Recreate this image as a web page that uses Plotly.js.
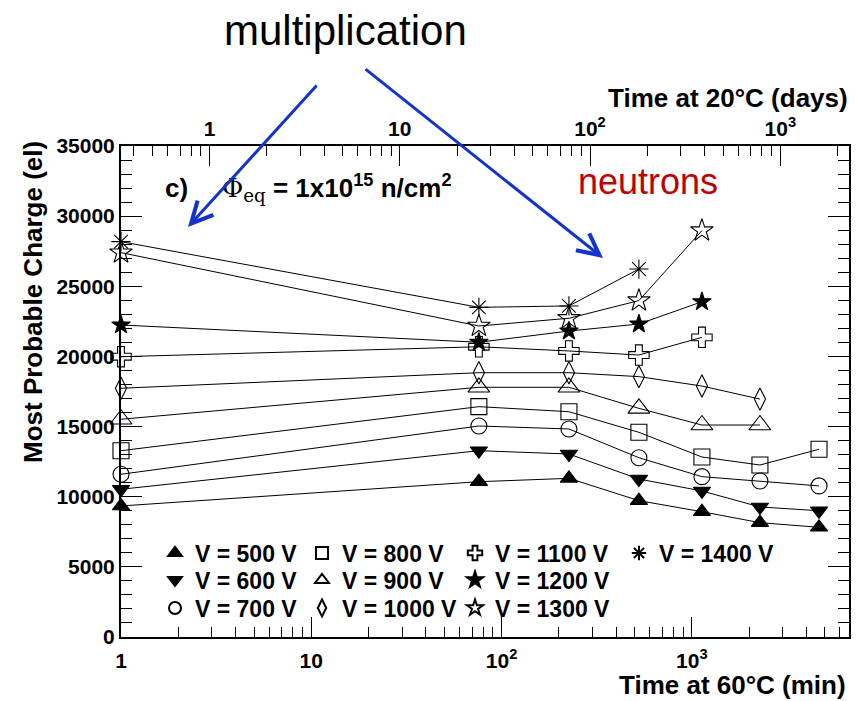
<!DOCTYPE html>
<html>
<head>
<meta charset="utf-8">
<script src="https://cdn.plot.ly/plotly-3.0.1.min.js"></script>
<style>
  html, body { margin: 0; padding: 0; background: #fff; }
  #chart { width: 860px; height: 701px; }
</style>
</head>
<body>
<div id="chart"></div>
<script>
// Annealing time at 60 C (minutes)
const timeMin = [1, 76, 226, 527, 1130, 2280, 4660];

// Most probable charge (electrons) per bias voltage
const q500  = [9340, 11070, 11310, 9720, 8930, 8150, 7820];
const q600  = [10530, 13280, 13045, 11260, 10410, 9270, 9000];
const q700  = [11600, 15040, 14830, 12780, 11430, 11120, 10770];
const q800  = [13280, 16420, 16060, 14590, 12830, 12260, 13380];
const q900  = [15520, 17800, 17800, 16300, 15110, 15110, null];
const q1000 = [17730, 18840, 18840, 18560, 17890, 16960, null];
const q1100 = [19980, 20690, 20390, 20100, 21360, null, null];
const q1200 = [22240, 21010, 21810, 22310, 23900, null, null];
const q1300 = [27400, 22170, 22720, 23980, 28970, null, null];
const q1400 = [28180, 23500, 23600, 26230, null, null, null];

const seriesNames = ['V = 500 V', 'V = 600 V', 'V = 700 V', 'V = 800 V', 'V = 900 V',
                     'V = 1000 V', 'V = 1100 V', 'V = 1200 V', 'V = 1300 V', 'V = 1400 V'];
const seriesValues = [q500, q600, q700, q800, q900, q1000, q1100, q1200, q1300, q1400];

// Tick labels
const yTicks = [0, 5000, 10000, 15000, 20000, 25000, 30000, 35000];
const yTickLabels = ['0', '5000', '10000', '15000', '20000', '25000', '30000', '35000'];
const decadeTicks = [1, 10, 100, 1000];
const decadeLabels = ['1', '10', '10<sup>2</sup>', '10<sup>3</sup>'];

// marker styling per series
const styles = [
  { symbol: 'triangle-up',       size: 15 },
  { symbol: 'triangle-down',     size: 15 },
  { symbol: 'circle-open',       size: 16 },
  { symbol: 'square-open',       size: 16 },
  { symbol: 'triangle-up-open',  size: 19 },
  { symbol: 'diamond-tall-open', size: 16 },
  { symbol: 'cross-open',        size: 17 },
  { symbol: 'star',              size: 14 },
  { symbol: 'star-open',         size: 17 },
  { symbol: 'asterisk-open',     size: 16 }
];

// legend box: one per entry, laid out in 4 columns x 3 rows (pixel positions of box top-left)
const legendCols = [155, 302, 455, 619];
const legendRows = [531.5, 558.5, 586.5];
const plotLeft = 121, plotRight = 849, plotTop = 146, plotBottom = 637;
const pw = plotRight - plotLeft, ph = plotBottom - plotTop;
const px = (x) => (x - plotLeft) / pw;
const py = (y) => (plotBottom - y) / ph;

const traces = [];
const legends = {};
seriesValues.forEach((vals, i) => {
  const legendId = i === 0 ? 'legend' : 'legend' + (i + 1);
  const col = Math.floor(i / 3), row = i % 3;
  legends[legendId] = {
    orientation: 'v', xanchor: 'left', yanchor: 'top',
    x: px(legendCols[col]), y: py(legendRows[row]),
    bgcolor: 'rgba(0,0,0,0)', borderwidth: 0, itemsizing: 'constant',
    font: { family: 'Liberation Sans, Arial, sans-serif', size: 23, color: '#000', weight: 'bold' }
  };
  // connecting line
  traces.push({
    x: timeMin, y: vals, type: 'scatter', mode: 'lines',
    line: { color: '#000', width: 1 }, showlegend: false,
    hoverinfo: 'skip', cliponaxis: false
  });
  // markers (also the legend entry)
  traces.push({
    x: timeMin, y: vals, type: 'scatter', mode: 'markers', name: seriesNames[i],
    legend: legendId, cliponaxis: false,
    marker: {
      symbol: styles[i].symbol, size: styles[i].size, color: '#000',
      line: { color: '#000', width: 1.1 }
    }
  });
});

// carriers for the top axis and the minor-tick axes
['x2', 'x3', 'x4'].forEach(ax => {
  traces.push({ x: [], y: [], xaxis: ax, yaxis: 'y', type: 'scatter', mode: 'markers', showlegend: false });
});

function minorLog(lo, hi) {
  const out = [];
  for (let e = lo; e <= hi; e++) {
    for (let m = 2; m <= 9; m++) out.push(m * Math.pow(10, e));
  }
  return out;
}

const tickFont = { family: 'Liberation Sans, Arial, sans-serif', size: 21, color: '#000', weight: 'bold' };
const bottomRange = [0, 3.826];
const topRange = [-0.465, 3.361];

const layout = Object.assign({
  width: 860, height: 701,
  margin: { l: plotLeft, r: 860 - plotRight, t: plotTop, b: 701 - plotBottom },
  paper_bgcolor: '#fff', plot_bgcolor: '#fff',
  font: { family: 'Liberation Sans, Arial, sans-serif', color: '#000' },
  showlegend: true,
  xaxis: {
    type: 'log', range: bottomRange,
    showgrid: false, zeroline: false,
    showline: true, linecolor: '#000', linewidth: 2, mirror: false,
    ticks: 'inside', ticklen: 20, tickwidth: 1, tickcolor: '#000',
    tickmode: 'array', tickvals: decadeTicks, ticktext: decadeLabels,
    tickfont: tickFont, ticklabelstandoff: 4
  },
  xaxis3: {
    type: 'log', range: bottomRange, overlaying: 'x', side: 'bottom', anchor: 'y',
    showgrid: false, zeroline: false, showline: false, showticklabels: false,
    ticks: 'inside', ticklen: 10, tickwidth: 1, tickcolor: '#000',
    tickmode: 'array', tickvals: minorLog(0, 3)
  },
  xaxis2: {
    type: 'log', range: topRange, overlaying: 'x', side: 'top', anchor: 'y',
    showgrid: false, zeroline: false,
    showline: true, linecolor: '#000', linewidth: 2,
    ticks: 'inside', ticklen: 20, tickwidth: 1, tickcolor: '#000',
    tickmode: 'array', tickvals: decadeTicks, ticktext: decadeLabels,
    tickfont: tickFont
  },
  xaxis4: {
    type: 'log', range: topRange, overlaying: 'x', side: 'top', anchor: 'y',
    showgrid: false, zeroline: false, showline: false, showticklabels: false,
    ticks: 'inside', ticklen: 10, tickwidth: 1, tickcolor: '#000',
    tickmode: 'array', tickvals: minorLog(-1, 3)
  },
  yaxis: {
    range: [0, 35000], showgrid: false, zeroline: false,
    showline: true, linecolor: '#000', linewidth: 2, mirror: 'ticks',
    ticks: 'inside', ticklen: 21, tickwidth: 1, tickcolor: '#000',
    tickmode: 'array', tickvals: yTicks, ticktext: yTickLabels, tickfont: tickFont,
    minor: { dtick: 1000, ticks: 'inside', ticklen: 11, tickwidth: 1, tickcolor: '#000' }
  },
  annotations: [
    { xref: 'paper', yref: 'paper', x: px(847), y: py(685), xanchor: 'right', yanchor: 'middle', showarrow: false,
      borderpad: 0, text: 'Time at 60°C (min)', font: { size: 26, weight: 'bold', color: '#000' } },
    { xref: 'paper', yref: 'paper', x: px(849), y: py(98), xanchor: 'right', yanchor: 'middle', showarrow: false,
      borderpad: 0, text: 'Time at 20°C (days)', font: { size: 26, weight: 'bold', color: '#000' } },
    { xref: 'paper', yref: 'paper', x: px(33), y: py(302), xanchor: 'center', yanchor: 'middle', showarrow: false,
      textangle: -90, text: 'Most Probable Charge (el)', font: { size: 26, weight: 'bold', color: '#000' } },
    { xref: 'paper', yref: 'paper', x: px(163), y: py(188), xanchor: 'left', yanchor: 'middle', showarrow: false,
      text: 'c)', font: { size: 26, weight: 'bold', color: '#000' } },
    { xref: 'paper', yref: 'paper', x: px(220), y: py(188), xanchor: 'left', yanchor: 'middle', showarrow: false,
      text: "<span style='font-family:DejaVu Serif;font-weight:normal'>Φ<sub>eq</sub></span> = 1x10<sup>15</sup> n/cm<sup>2</sup>",
      font: { size: 26, weight: 'bold', color: '#000' } },
    { xref: 'paper', yref: 'paper', x: px(648), y: py(181), xanchor: 'center', yanchor: 'middle', showarrow: false,
      text: 'neutrons', font: { size: 36, color: '#c00000' } },
    { xref: 'paper', yref: 'paper', x: px(345), y: py(30), xanchor: 'center', yanchor: 'middle', showarrow: false,
      text: 'multiplication', font: { size: 42, color: '#000' } },
    // arrows from the label down to the rising charge
    { xref: 'paper', yref: 'paper', x: px(188), y: py(227), ax: 130, ay: -143,
      showarrow: true, arrowhead: 5, arrowsize: 1.4, arrowwidth: 3, arrowcolor: '#1234cc', text: '' },
    { xref: 'paper', yref: 'paper', x: px(603), y: py(258), ax: -239, ay: -190,
      showarrow: true, arrowhead: 5, arrowsize: 1.4, arrowwidth: 3, arrowcolor: '#1234cc', text: '' }
  ]
}, legends);

Plotly.newPlot('chart', traces, layout, { displayModeBar: false, staticPlot: true });
</script>
</body>
</html>
